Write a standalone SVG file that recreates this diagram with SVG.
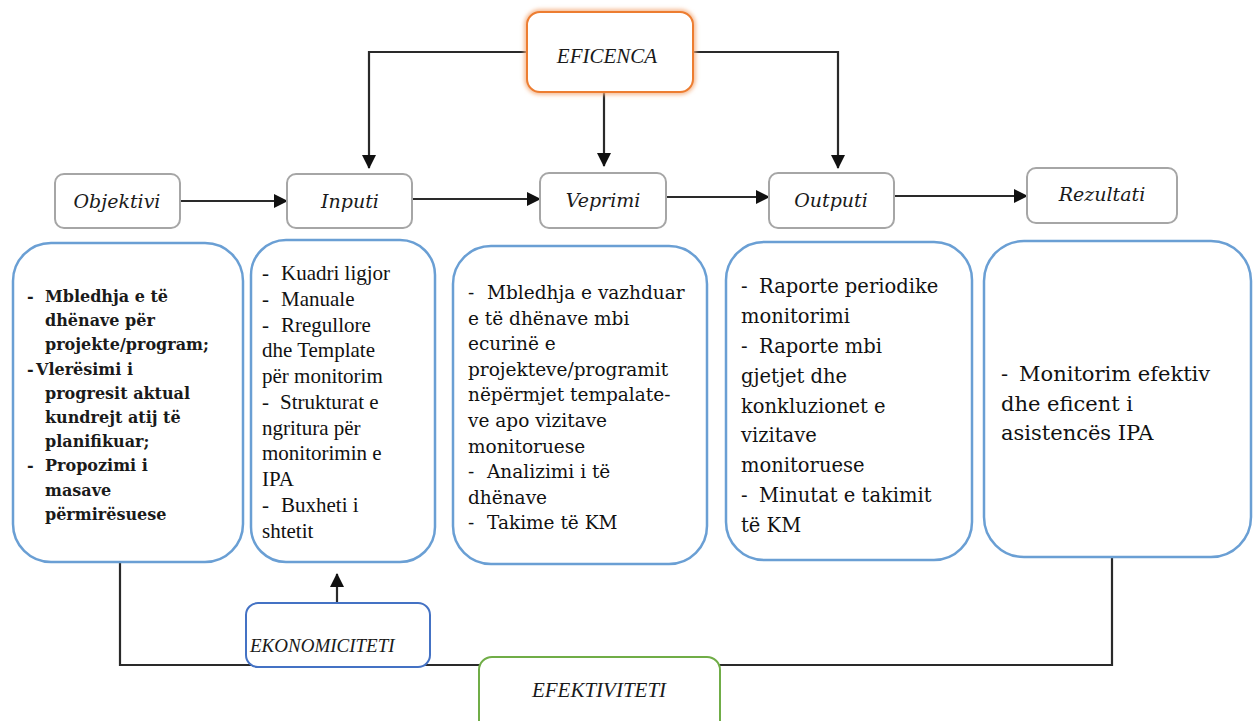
<svg xmlns="http://www.w3.org/2000/svg" width="1253" height="721" viewBox="0 0 1253 721">
<defs>
<style>
.hdr{fill:#fff;stroke:#a6a6a6;stroke-width:2}
.cnt{fill:#fff;stroke:#6a9fd4;stroke-width:2.5}
.ht{font-family:"DejaVu Serif",serif;font-style:italic;font-size:19px;fill:#1a1a1a;text-anchor:middle}
.cap{font-family:"Liberation Serif",serif;font-style:italic;font-size:21px;fill:#1a1a1a}
.t1{font-family:"DejaVu Serif",serif;font-weight:bold;font-size:16px;fill:#1a1a1a}
.t2{font-family:"Liberation Serif",serif;font-size:21px;fill:#111}
.t3{font-family:"DejaVu Serif",serif;font-size:18.5px;fill:#111}
.t4{font-family:"DejaVu Serif",serif;font-size:19.5px;fill:#111}
.t5{font-family:"DejaVu Serif",serif;font-size:21px;fill:#111}
.ln{fill:none;stroke:#2a2a2a;stroke-width:2.2}
</style>
<marker id="ah" markerWidth="14" markerHeight="14" viewBox="0 0 14 14" refX="13" refY="7" orient="auto" markerUnits="userSpaceOnUse">
<path d="M0,0 L14,7 L0,14 Z" fill="#111"/>
</marker>
<filter id="glow" x="-20%" y="-20%" width="140%" height="140%">
<feGaussianBlur stdDeviation="2"/>
</filter>
</defs>
<rect width="1253" height="721" fill="#fff"/>

<g id="connectors">
<path class="ln" d="M527,52 H369 V168" marker-end="url(#ah)"/>
<path class="ln" d="M693,52 H838 V168" marker-end="url(#ah)"/>
<path class="ln" d="M604,92 V166" marker-end="url(#ah)"/>
<path class="ln" d="M180,201 H287" marker-end="url(#ah)"/>
<path class="ln" d="M412,199 H540" marker-end="url(#ah)"/>
<path class="ln" d="M666,197 H769" marker-end="url(#ah)"/>
<path class="ln" d="M894,196 H1027" marker-end="url(#ah)"/>
<path class="ln" d="M337,602 V574" marker-end="url(#ah)"/>
<path class="ln" d="M120,562 V665 H1112 V557"/>
</g>

<g id="eficenca">
<rect x="527" y="12" width="166" height="80" rx="13" fill="none" stroke="#f4b183" stroke-width="5" filter="url(#glow)"/>
<rect x="527" y="12" width="166" height="80" rx="13" fill="#fff" stroke="#ed7d31" stroke-width="2"/>
<text class="cap" x="607" y="63" text-anchor="middle">EFICENCA</text>
</g>

<g id="objektivi">
<rect class="hdr" x="55" y="174" width="125" height="54" rx="9"/>
<text class="ht" x="117" y="208">Objektivi</text>
</g>
<g id="inputi">
<rect class="hdr" x="287" y="174" width="125" height="54" rx="9"/>
<text class="ht" x="350" y="208">Inputi</text>
</g>
<g id="veprimi">
<rect class="hdr" x="540" y="173" width="126" height="55" rx="9"/>
<text class="ht" x="603" y="207">Veprimi</text>
</g>
<g id="outputi">
<rect class="hdr" x="769" y="173" width="125" height="55" rx="9"/>
<text class="ht" x="831" y="207">Outputi</text>
</g>
<g id="rezultati">
<rect class="hdr" x="1027" y="168" width="150" height="55" rx="9"/>
<text class="ht" x="1102" y="201">Rezultati</text>
</g>

<g id="box-objektivi">
<rect class="cnt" x="13" y="243" width="230" height="319" rx="38"/>
<text class="t1">
<tspan x="27" y="302">-</tspan><tspan x="45" y="302">Mbledhja e të</tspan>
<tspan x="45" y="326">dhënave për</tspan>
<tspan x="45" y="350">projekte/program;</tspan>
<tspan x="27" y="375">-</tspan><tspan x="36" y="375">Vlerësimi i</tspan>
<tspan x="45" y="399">progresit aktual</tspan>
<tspan x="45" y="423">kundrejt atij të</tspan>
<tspan x="45" y="447">planifikuar;</tspan>
<tspan x="27" y="471">-</tspan><tspan x="45" y="471">Propozimi i</tspan>
<tspan x="45" y="496">masave</tspan>
<tspan x="45" y="520">përmirësuese</tspan>
</text>
</g>

<g id="box-inputi">
<rect class="cnt" x="251" y="240" width="184" height="322" rx="35"/>
<text class="t2">
<tspan x="262" y="280">-</tspan><tspan x="281" y="280">Kuadri ligjor</tspan>
<tspan x="262" y="306">-</tspan><tspan x="281" y="306">Manuale</tspan>
<tspan x="262" y="332">-</tspan><tspan x="281" y="332">Rregullore</tspan>
<tspan x="262" y="357">dhe Template</tspan>
<tspan x="262" y="383">për monitorim</tspan>
<tspan x="262" y="409">-</tspan><tspan x="280" y="409">Strukturat e</tspan>
<tspan x="262" y="435">ngritura për</tspan>
<tspan x="262" y="460">monitorimin e</tspan>
<tspan x="262" y="486">IPA</tspan>
<tspan x="262" y="512">-</tspan><tspan x="281" y="512">Buxheti i</tspan>
<tspan x="262" y="538">shtetit</tspan>
</text>
</g>

<g id="box-veprimi">
<rect class="cnt" x="453" y="246" width="254" height="318" rx="38"/>
<text class="t3">
<tspan x="468" y="299">-</tspan><tspan x="487" y="299">Mbledhja e vazhduar</tspan>
<tspan x="468" y="325">e të dhënave mbi</tspan>
<tspan x="468" y="350">ecurinë e</tspan>
<tspan x="468" y="376">projekteve/programit</tspan>
<tspan x="468" y="401">nëpërmjet tempalate-</tspan>
<tspan x="468" y="427">ve apo vizitave</tspan>
<tspan x="468" y="453">monitoruese</tspan>
<tspan x="468" y="478">-</tspan><tspan x="487" y="478">Analizimi i të</tspan>
<tspan x="468" y="504">dhënave</tspan>
<tspan x="468" y="529">-</tspan><tspan x="487" y="529">Takime të KM</tspan>
</text>
</g>

<g id="box-outputi">
<rect class="cnt" x="726" y="242" width="246" height="318" rx="38"/>
<text class="t4">
<tspan x="741" y="293">-</tspan><tspan x="759" y="293">Raporte periodike</tspan>
<tspan x="741" y="323">monitorimi</tspan>
<tspan x="741" y="353">-</tspan><tspan x="759" y="353">Raporte mbi</tspan>
<tspan x="741" y="383">gjetjet dhe</tspan>
<tspan x="741" y="413">konkluzionet e</tspan>
<tspan x="741" y="442">vizitave</tspan>
<tspan x="741" y="472">monitoruese</tspan>
<tspan x="741" y="502">-</tspan><tspan x="759" y="502">Minutat e takimit</tspan>
<tspan x="741" y="532">të KM</tspan>
</text>
</g>

<g id="box-rezultati">
<rect class="cnt" x="984" y="241" width="267" height="316" rx="40"/>
<text class="t5">
<tspan x="1001" y="381">-</tspan><tspan x="1019" y="381">Monitorim efektiv</tspan>
<tspan x="1001" y="411">dhe eficent i</tspan>
<tspan x="1001" y="440">asistencës IPA</tspan>
</text>
</g>

<g id="ekonomiciteti">
<rect x="246" y="603" width="184" height="64" rx="12" fill="#fff" stroke="#4472c4" stroke-width="2"/>
<text class="cap" x="250" y="652" style="font-size:19px">EKONOMICITETI</text>
</g>

<g id="efektiviteti">
<rect x="479" y="657" width="241" height="80" rx="13" fill="#fff" stroke="#70ad47" stroke-width="2"/>
<text class="cap" x="599" y="697" text-anchor="middle">EFEKTIVITETI</text>
</g>
</svg>
